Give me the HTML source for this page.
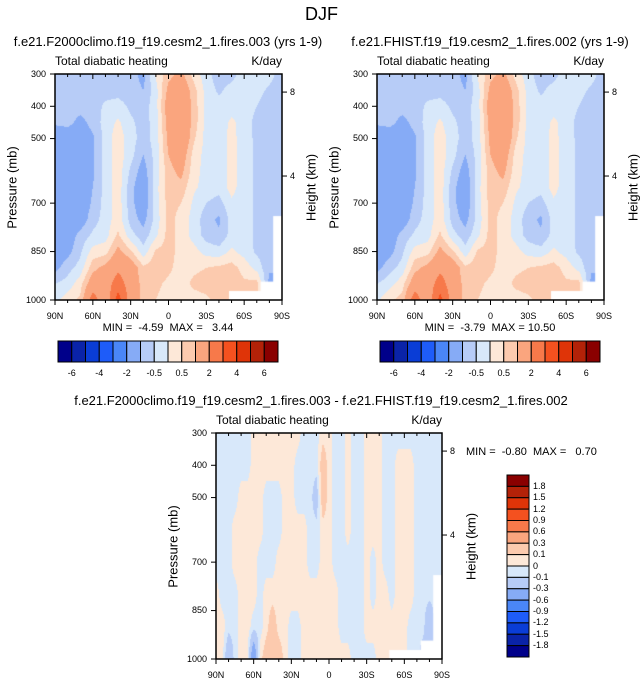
<!DOCTYPE html>
<html><head><meta charset="utf-8">
<style>
body{margin:0;background:#fff;width:643px;height:683px;overflow:hidden;font-family:"Liberation Sans",Arial,sans-serif;color:#000}
#root{position:relative;width:643px;height:683px}
.t{position:absolute;white-space:pre;line-height:1}
canvas{position:absolute}
svg{position:absolute;left:0;top:0}
</style></head><body>
<div id="root">
<div class="t" style="left:0;width:643px;text-align:center;top:5px;font-size:18px">DJF</div>
</div>
<svg id="ov" width="643" height="683"></svg>
<script>
// ---- data ----
const latLabels = ["90N","60N","30N","0","30S","60S","90S"];
const presTicks = [300,400,500,700,850,1000];
const heightTicks = [8,4];
const heightTickPres = [356,616];
const levelsMain = [-6,-5,-4,-3,-2,-1,-0.5,0,0.5,1,2,3,4,5,6];
const levelsDiff = [-1.8,-1.5,-1.2,-0.9,-0.6,-0.3,-0.1,0,0.1,0.3,0.6,0.9,1.2,1.5,1.8];
const mainBarLabels = ["-6","-4","-2","-0.5","0.5","2","4","6"];
const diffBarLabels = ["1.8","1.5","1.2","0.9","0.6","0.3","0.1","0","-0.1","-0.3","-0.6","-0.9","-1.2","-1.5","-1.8"];
const palette = ["#00008a","#0a23a8","#0a3dd6","#1e5cf9","#4a86f7","#86abf6","#b7ccf7","#d8e8fa","#fde8d8","#fccaae","#faa57e","#f7794a","#f4511f","#df3408","#b32208","#8a0000"];
const mainPres = [300,350,400,450,500,550,600,650,700,750,800,850,900,950,1000];
const diffPres = [300,400,500,600,700,800,900,1000];
const heating003 = [
[-0.75,-0.75,-0.75,-0.9,-1.5,-1.5,-1.5,-1.5,-1.5,-1.5,-1.5,-1.4,-1.2,-0.5,-0.2],
[-0.75,-0.75,-0.75,-0.8,-1.5,-1.5,-1.5,-1.5,-1.5,-1.5,-1.4,-1.2,-0.7,-0.3,0.3],
[-0.75,-0.75,-0.75,-1.2,-1.5,-1.5,-1.5,-1.5,-1.5,-1.4,-0.8,-0.6,-0.3,0.3,0.6],
[-0.75,-0.75,-0.75,-0.8,-1.1,-1.1,-1.1,-1.0,-0.9,-0.7,-0.4,0.2,0.8,1.5,2.5],
[-0.75,-0.7,-0.4,-0.3,-0.3,-0.3,-0.3,-0.3,-0.3,-0.3,-0.2,0.3,1.2,1.5,1.2],
[-0.75,-0.7,-0.3,0.1,0.3,0.3,0.3,0.3,0.3,0.3,0.6,1.2,1.8,2.5,3.5],
[-0.75,-0.75,-0.6,-0.4,-0.3,-0.3,-0.6,-0.8,-0.8,-0.7,-0.3,0.6,1.5,1.5,1.5],
[-1.2,-1,-0.75,-0.7,-0.7,-1,-1.3,-1.5,-1.5,-1.2,-0.8,-0.3,0.6,0.8,0.8],
[0.1,-0.2,-0.2,-0.3,-0.3,-0.3,-0.3,-0.2,-0.2,-0.3,-0.1,0.6,0.8,0.6,0.5],
[0.8,1.2,1.5,1.3,1.2,1,0.8,0.8,0.7,0.7,0.7,0.7,0.6,0.4,0.3],
[1.2,1.6,1.8,1.8,1.8,1.5,1.2,0.8,0.5,0.3,0.3,0.3,0.3,0.3,0.2],
[0.3,0.7,0.8,0.8,0.6,0.3,0.2,0.1,-0.1,-0.2,-0.2,0.2,0.4,0.6,0.3],
[-0.3,-0.2,-0.2,-0.2,-0.2,-0.2,-0.2,-0.2,-0.5,-0.8,-0.7,-0.2,0.5,0.7,0.4],
[-0.8,-0.6,-0.3,-0.3,-0.3,-0.3,-0.3,-0.3,-0.7,-1.1,-0.9,-0.3,0.6,0.8,0.7],
[-0.7,-0.3,-0.2,0.1,0.2,0.2,0.2,0.2,-0.1,-0.3,-0.3,0.1,0.7,0.8,0.5],
[-0.2,-0.2,-0.2,-0.2,-0.3,-0.3,-0.3,-0.3,-0.3,-0.3,-0.3,-0.2,0.3,0.6,0.5],
[-0.3,-0.3,-0.5,-0.7,-0.6,-0.6,-0.6,-0.6,-0.6,-0.6,-0.6,-0.6,-0.2,0.7,0.5],
[-0.3,-0.6,-0.8,-0.9,-0.9,-0.9,-0.9,-0.9,-0.8,-0.8,-0.8,-0.8,-0.9,-1.2,-1],
[-0.75,-0.8,-0.9,-1,-1,-1,-1,-1,-1,-1,-1,-1,-1,-1,-1]];
const heating002 = [
[-0.75,-0.75,-0.75,-0.9,-1.5,-1.5,-1.5,-1.5,-1.5,-1.5,-1.5,-1.4,-1.2,-0.5,-0.1],
[-0.75,-0.75,-0.75,-0.8,-1.5,-1.5,-1.5,-1.5,-1.5,-1.5,-1.4,-1.2,-0.7,-0.2,0.4],
[-0.75,-0.75,-0.75,-1.2,-1.5,-1.5,-1.5,-1.5,-1.5,-1.4,-0.8,-0.6,-0.3,0.3,0.7],
[-0.75,-0.75,-0.75,-0.8,-1.1,-1.1,-1.1,-1.0,-0.9,-0.7,-0.4,0.2,0.8,1.5,2.6],
[-0.75,-0.7,-0.4,-0.3,-0.3,-0.3,-0.3,-0.3,-0.3,-0.3,-0.2,0.3,1.2,1.5,1.2],
[-0.75,-0.7,-0.3,0.1,0.3,0.3,0.3,0.3,0.3,0.3,0.6,1.2,1.8,2.4,3.4],
[-0.75,-0.75,-0.6,-0.4,-0.3,-0.3,-0.6,-0.8,-0.8,-0.7,-0.3,0.6,1.5,1.5,1.5],
[-1.2,-1,-0.75,-0.7,-0.7,-1,-1.3,-1.5,-1.5,-1.2,-0.8,-0.3,0.6,0.8,0.8],
[0.1,-0.2,-0.2,-0.3,-0.3,-0.3,-0.3,-0.2,-0.2,-0.3,-0.1,0.6,0.8,0.6,0.5],
[0.8,1.2,1.5,1.3,1.2,1,0.8,0.8,0.7,0.7,0.7,0.7,0.6,0.4,0.3],
[1.2,1.6,1.8,1.8,1.8,1.5,1.2,0.8,0.5,0.3,0.3,0.3,0.3,0.3,0.2],
[0.3,0.7,0.8,0.8,0.6,0.3,0.2,0.1,-0.1,-0.2,-0.2,0.2,0.4,0.6,0.3],
[-0.3,-0.2,-0.2,-0.2,-0.2,-0.2,-0.2,-0.2,-0.5,-0.8,-0.7,-0.2,0.5,0.7,0.4],
[-0.8,-0.6,-0.3,-0.3,-0.3,-0.3,-0.3,-0.3,-0.7,-1.1,-0.9,-0.3,0.6,0.8,0.7],
[-0.7,-0.3,-0.2,0.1,0.2,0.2,0.2,0.2,-0.1,-0.3,-0.3,0.1,0.7,0.8,0.5],
[-0.2,-0.2,-0.2,-0.2,-0.3,-0.3,-0.3,-0.3,-0.3,-0.3,-0.3,-0.2,0.3,0.6,0.5],
[-0.3,-0.3,-0.5,-0.7,-0.6,-0.6,-0.6,-0.6,-0.6,-0.6,-0.6,-0.6,-0.2,0.7,0.5],
[-0.3,-0.6,-0.8,-0.9,-0.9,-0.9,-0.9,-0.9,-0.8,-0.8,-0.8,-0.8,-0.9,-1.2,-1],
[-0.75,-0.8,-0.9,-1,-1,-1,-1,-1,-1,-1,-1,-1,-1,-1,-1]];
const P=0.05, N=-0.05;
const heatingDiff = [
[N,N,N,N,N,P,P,0.1],[N,N,N,N,N,N,P,P],[N,N,N,N,N,N,N,-0.3],[N,N,N,P,P,N,N,N],
[N,N,P,P,P,P,P,P],[N,N,P,P,P,P,P,P],[P,P,P,P,P,P,N,-0.6],[P,P,P,P,N,N,N,P],
[P,P,N,N,N,P,P,0.2],[P,P,N,N,N,P,0.2,0.2],[P,P,N,N,P,P,P,0.2],[P,P,P,P,P,P,P,P],
[P,P,P,P,P,P,N,N],[P,N,N,P,P,P,N,N],[N,N,N,P,P,P,P,P],[N,N,N,N,N,P,P,P],
[N,N,-0.2,N,N,P,P,P],[P,0.2,0.2,P,P,P,P,P],[P,P,P,P,P,P,P,P],[N,N,N,N,N,P,P,P],
[N,N,N,N,N,N,N,P],[P,P,P,P,N,N,N,P],[N,N,N,N,N,N,N,N],[N,N,N,N,N,N,N,N],
[P,P,P,P,P,P,P,N],[P,P,P,P,N,N,P,N],[P,P,P,P,P,P,P,P],[N,N,N,N,N,P,P,P],
[N,N,N,N,N,N,P,P],[N,P,P,P,P,P,P,P],[N,P,P,P,P,P,P,P],[N,P,P,P,P,P,N,N],
[N,N,N,N,N,N,N,N],[N,N,N,N,N,N,N,-0.2],[N,N,N,N,N,N,-0.3,-0.3],[N,N,N,N,N,N,N,N],[N,N,N,N,N,N,N,N]];
// missing-data regions: [lat-from(deg from 90N), lat-to, pressure-from]
const missing = [[138,180,972],[163,180,943],[173,180,740]];

// ---- drawing ----
const root=document.getElementById('root');
const ov=document.getElementById('ov');
const NS='http://www.w3.org/2000/svg';
function txt(s,x,y,size,align,name,rot){
  const d=document.createElement('div');d.className='t';d.textContent=s;
  d.style.fontSize=size+'px';d.style.top=(y-size/2)+'px';
  if(rot){d.style.left=(x-100)+'px';d.style.width='200px';d.style.textAlign='center';d.style.transform='rotate(-90deg)';}
  else if(align==='c'){d.style.left=(x-250)+'px';d.style.width='500px';d.style.textAlign='center';}
  else if(align==='r'){d.style.left=(x-100)+'px';d.style.width='100px';d.style.textAlign='right';}
  else d.style.left=x+'px';
  
  
  root.appendChild(d);
}
function line(x1,y1,x2,y2,w,name){
  const l=document.createElementNS(NS,'line');
  l.setAttribute('x1',x1);l.setAttribute('y1',y1);l.setAttribute('x2',x2);l.setAttribute('y2',y2);
  l.setAttribute('stroke','#000');l.setAttribute('stroke-width',w);
  
  
  ov.appendChild(l);
}
function rect(x,y,w,h,fill,name){
  const r=document.createElementNS(NS,'rect');
  r.setAttribute('x',x);r.setAttribute('y',y);r.setAttribute('width',w);r.setAttribute('height',h);
  r.setAttribute('fill',fill);r.setAttribute('stroke','#000');r.setAttribute('stroke-width',1);
  
  
  ov.appendChild(r);
}
function colorFor(v,lev){let i=0;while(i<lev.length&&v>=lev[i])i++;return palette[i];}
function sample(grid,pres,fx,p){
  const nc=grid.length;const cx=fx*(nc-1);const c0=Math.min(Math.floor(cx),nc-2);const tx=cx-c0;
  let r0=0;while(r0<pres.length-2&&p>pres[r0+1])r0++;
  const ty=(p-pres[r0])/(pres[r0+1]-pres[r0]);
  const a=grid[c0][r0]*(1-ty)+grid[c0][r0+1]*ty;
  const b=grid[c0+1][r0]*(1-ty)+grid[c0+1][r0+1]*ty;
  return a*(1-tx)+b*tx;
}
function panel(o){
  const {x0,y0,w,h,grid,pres,lev,name}=o;
  const xOf=lat=>x0+lat/180*w; const yOf=p=>y0+(p-300)/700*h;
  const cv=document.createElement('canvas');cv.width=w;cv.height=h;
  cv.style.left=x0+'px';cv.style.top=y0+'px';
  
  
  root.appendChild(cv);
  const ctx=cv.getContext('2d');
  for(let j=0;j<h;j++){const p=300+(j+0.5)/h*700;
    for(let i=0;i<w;i++){const fx=(i+0.5)/w;
      ctx.fillStyle=colorFor(sample(grid,pres,fx,p),lev);ctx.fillRect(i,j,1,1);}}
  ctx.fillStyle='#fff';
  missing.forEach(m=>{const a=m[0]/180*w,b=m[1]/180*w,yy=(m[2]-300)/700*h;ctx.fillRect(a,yy,b-a,h-yy);});
  const fr=document.createElementNS(NS,'rect');
  fr.setAttribute('x',x0);fr.setAttribute('y',y0);fr.setAttribute('width',w);fr.setAttribute('height',h);
  fr.setAttribute('fill','none');fr.setAttribute('stroke','#000');fr.setAttribute('stroke-width',1.5);
  
  
  ov.appendChild(fr);
  for(let lat=0;lat<=180;lat+=10){const X=xOf(lat),L=lat%30===0?5:3;
    line(X,y0,X,y0+L,1,name+'-top-tick');line(X,y0+h,X,y0+h+L,1,name+'-bottom-tick');}
  latLabels.forEach((s,k)=>txt(s,xOf(k*30),y0+h+16,9,'c',name+'-x-label'));
  presTicks.forEach(p=>{line(x0-5,yOf(p),x0,yOf(p),1,name+'-y-tick');txt(String(p),x0-9,yOf(p),9,'r',name+'-y-label');});
  heightTicks.forEach((t,k)=>{const Y=yOf(heightTickPres[k]);line(x0+w,Y,x0+w+5,Y,1,name+'-height-tick');txt(String(t),x0+w+8,Y,9,'l',name+'-height-label');});
  txt('Pressure (mb)',x0-43,y0+h/2,13,'c',name+'-y-axis-title',true);
  txt('Height (km)',x0+w+29,y0+h/2,13,'c',name+'-right-axis-title',true);
  txt('Total diabatic heating',x0,y0-13,12,'l',name+'-subtitle');
  txt('K/day',x0+w,y0-13,12,'r',name+'-units');
}
function hbar(x0,y0,name){
  const bw=13.75;
  palette.forEach((c,i)=>rect(x0+i*bw,y0,bw,21,c,name+'-box'));
  mainBarLabels.forEach((s,k)=>txt(s,x0+(2*k+1)*bw,y0+32,9,'c',name+'-label'));
}
txt('f.e21.F2000climo.f19_f19.cesm2_1.fires.003 (yrs 1-9)',168,41,13,'c','panel1-title');
panel({x0:55,y0:74,w:227,h:226,grid:heating003,pres:mainPres,lev:levelsMain,name:'panel1'});
txt('MIN =  -4.59  MAX =   3.44',168,328,11,'c','panel1-minmax');
hbar(58,341,'panel1-colorbar');
txt('f.e21.FHIST.f19_f19.cesm2_1.fires.002 (yrs 1-9)',490,41,13,'c','panel2-title');
panel({x0:377,y0:74,w:227,h:226,grid:heating002,pres:mainPres,lev:levelsMain,name:'panel2'});
txt('MIN =  -3.79  MAX = 10.50',490,328,11,'c','panel2-minmax');
hbar(380,341,'panel2-colorbar');
txt('f.e21.F2000climo.f19_f19.cesm2_1.fires.003 - f.e21.FHIST.f19_f19.cesm2_1.fires.002',321,400,13,'c','panel3-title');
panel({x0:216,y0:433,w:226,h:226,grid:heatingDiff,pres:diffPres,lev:levelsDiff,name:'panel3'});
txt('MIN =  -0.80  MAX =   0.70',466,452,11,'l','panel3-minmax');
const vbh=11.375;
for(let i=0;i<16;i++)rect(507,475+i*vbh,22,vbh,palette[15-i],'panel3-colorbar-box');
diffBarLabels.forEach((s,k)=>txt(s,533,475+(k+1)*vbh,9,'l','panel3-colorbar-label'));
</script>
</body></html>
